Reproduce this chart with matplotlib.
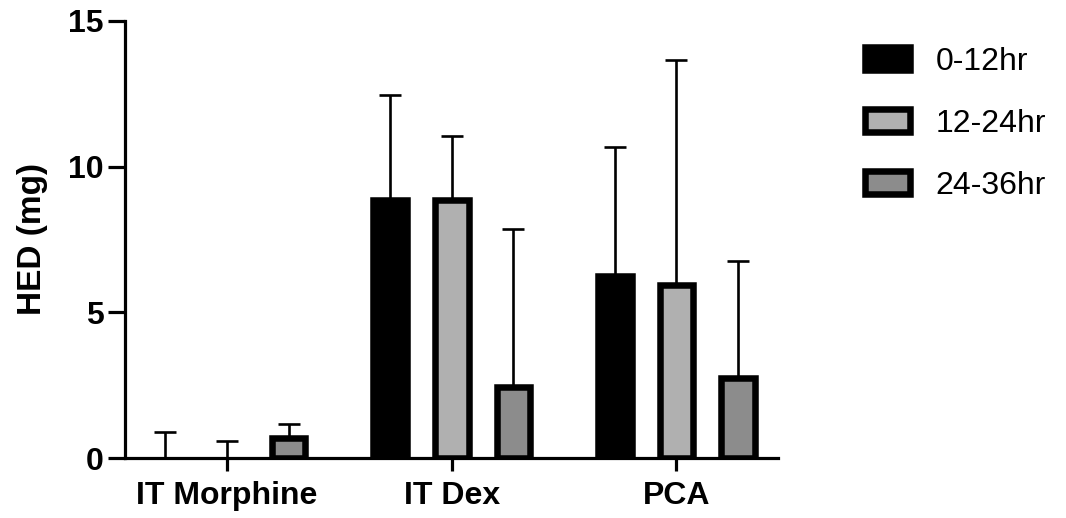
import numpy as np
import matplotlib.pyplot as plt
from matplotlib.patches import Patch

plt.rcParams['font.family'] = ['Liberation Sans', 'DejaVu Sans']

# data
groups = ['IT Morphine', 'IT Dex', 'PCA']
series = ['0-12hr', '12-24hr', '24-36hr']
means = {
    '0-12hr':  [0.0, 8.86, 6.25],
    '12-24hr': [0.0, 8.86, 5.94],
    '24-36hr': [0.68, 2.45, 2.74],
}
upper_err = {
    '0-12hr':  [0.88, 3.61, 4.43],
    '12-24hr': [0.57, 2.2, 7.72],
    '24-36hr': [0.49, 5.41, 4.03],
}
fills = {'0-12hr': '#000000', '12-24hr': '#b0b0b0', '24-36hr': '#8c8c8c'}
edge_lw = 4.7

fig = plt.figure(figsize=(10.66, 5.18), dpi=100)
ax = fig.add_axes([0.1173, 0.1158, 0.613, 0.8437])

x = np.arange(len(groups))
step = 0.274
width = 0.149
for i, s in enumerate(series):
    pos = x + (i - 1) * step
    vals = np.array(means[s])
    err = np.array(upper_err[s])
    ax.errorbar(pos, vals, yerr=[np.zeros_like(err), err], fmt='none',
                ecolor='black', elinewidth=1.9, capsize=7.9, capthick=1.9, zorder=1)
    # zero-height bars show no outline in the original
    lws = [edge_lw if v > 0 else 0 for v in vals]
    ax.bar(pos, vals, width, color=fills[s], edgecolor='black', linewidth=lws, zorder=2)

ax.set_xlim(-0.454, 2.454)
ax.set_ylim(0, 15)
ax.set_yticks([0, 5, 10, 15])
ax.set_xticks(x)
ax.set_xticklabels(groups, fontsize=23, fontweight='bold')
for lab in ax.get_yticklabels():
    lab.set_fontsize(23)
    lab.set_fontweight('bold')
ax.set_ylabel('HED (mg)', fontsize=24, fontweight='bold', labelpad=14)

for side in ['top', 'right']:
    ax.spines[side].set_visible(False)
for side in ['left', 'bottom']:
    ax.spines[side].set_linewidth(2.3)
ax.spines['left'].set_zorder(3)
ax.tick_params(axis='both', width=2.3, direction='out')
ax.tick_params(axis='x', length=9.5, pad=7)
ax.tick_params(axis='y', length=12, pad=3.5)

handles = [Patch(facecolor=fills[s], edgecolor='black', linewidth=edge_lw) for s in series]
fig.legend(handles, series, loc='upper left', bbox_to_anchor=(0.811, 0.91),
           frameon=False, fontsize=23, handlelength=1.42, handleheight=0.77,
           labelspacing=1.0, handletextpad=0.8, borderaxespad=0, borderpad=0)

fig.savefig('out.png', dpi=100)
